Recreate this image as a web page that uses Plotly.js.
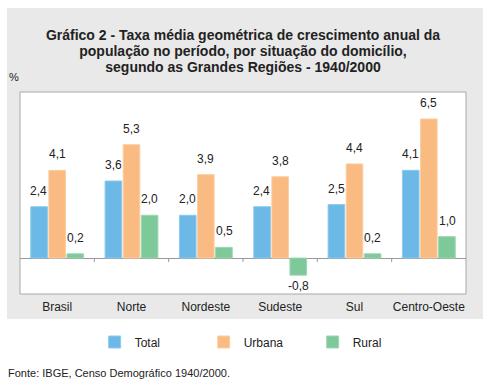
<!DOCTYPE html>
<html>
<head>
<meta charset="utf-8">
<script src="https://cdn.plot.ly/plotly-3.0.1.min.js"></script>
<style>
html,body{margin:0;padding:0;background:#fff;}
#chart{width:492px;height:385px;}
</style>
</head>
<body>
<div id="chart"></div>
<script>
const categories = ["Brasil", "Norte", "Nordeste", "Sudeste", "Sul", "Centro-Oeste"];
const seriesNames = ["Total", "Urbana", "Rural"];
const total = [2.4, 3.6, 2.0, 2.4, 2.5, 4.1];
const urbana = [4.1, 5.3, 3.9, 3.8, 4.4, 6.5];
const rural = [0.2, 2.0, 0.5, -0.8, 0.2, 1.0];
const seriesValues = [total, urbana, rural];
const titleLines = [
  "Gráfico 2 - Taxa média geométrica de crescimento anual da",
  "população no período, por situação do domicílio,",
  "segundo as Grandes Regiões - 1940/2000"
];
const colors = ["#6cb8e6", "#f9bb82", "#7dc99a"];
const lineColors = ["#8fcaee", "#fbcfa5", "#9dd7b3"];

const FONT = "Liberation Sans, Arial, sans-serif";

const traces = seriesValues.map((vals, k) => ({
  type: "bar",
  name: seriesNames[k],
  x: categories,
  y: vals,
  marker: {color: colors[k], line: {color: lineColors[k], width: 1}},
  hoverinfo: "x+y+name"
}));

const annotations = [];
seriesValues.forEach((vals, k) => {
  vals.forEach((v, i) => {
    annotations.push({
      x: categories[i], y: v, xref: "x", yref: "y",
      text: v.toFixed(1).replace(".", ","),
      showarrow: false,
      xshift: (k - 1) * 18.2,
      yshift: v >= 0 ? 16 : -11,
      font: {family: FONT, size: 12, color: "#222"}
    });
  });
});
annotations.push({
  xref: "paper", yref: "paper", x: -0.029, y: 1.074, xanchor: "left", yanchor: "middle",
  text: "%", showarrow: false, font: {family: FONT, size: 11, color: "#222"}
});
annotations.push({
  xref: "paper", yref: "paper", x: -0.031, y: -0.391, xanchor: "left", yanchor: "middle",
  text: "Fonte: IBGE, Censo Demográfico 1940/2000.", showarrow: false,
  font: {family: FONT, size: 11, color: "#222"}
});

const shapes = [
  {type: "rect", xref: "paper", yref: "paper", x0: -0.0291, x1: 1.0381, y0: -0.1238, y1: 1.4158,
   fillcolor: "#e9e9e9", line: {width: 0}, layer: "below"},
  {type: "rect", xref: "paper", yref: "paper", x0: 0, x1: 1, y0: 0, y1: 1,
   fillcolor: "#ffffff", line: {color: "#a8a8a8", width: 1}, layer: "below"}
];
for (let i = 0; i < categories.length - 1; i++) {
  shapes.push({type: "line", xref: "x", yref: "y", x0: i + 0.5, x1: i + 0.5,
    ysizemode: "pixel", yanchor: 0, y0: 0, y1: -4,
    line: {color: "#999", width: 1}});
}

const layout = {
  width: 492, height: 385,
  margin: {l: 20, r: 26, t: 92, b: 91},
  paper_bgcolor: "#ffffff",
  plot_bgcolor: "rgba(0,0,0,0)",
  separators: ",.",
  font: {family: FONT, color: "#222"},
  title: {
    text: titleLines.map(t => '<span style="font-size:14px">' + t + '</span>').join("<br>"),
    font: {family: FONT, size: 12, color: "#222", weight: "bold"},
    xref: "paper", x: 0.5, xanchor: "center",
    yref: "container", y: 0.895, yanchor: "top"
  },
  barmode: "group",
  bargap: 0.27,
  bargroupgap: 0.08,
  showlegend: true,
  legend: {
    orientation: "h", xref: "paper", x: 0.534, xanchor: "center",
    yref: "paper", y: -0.2376, yanchor: "middle",
    font: {family: FONT, size: 12, color: "#222"},
    bgcolor: "rgba(0,0,0,0)", entrywidth: 64, traceorder: "normal"
  },
  xaxis: {
    type: "category", showgrid: false, showline: false, ticks: "",
    tickfont: {family: FONT, size: 12, color: "#222"},
    ticklabelstandoff: 4, fixedrange: true
  },
  yaxis: {
    range: [-1.68, 7.76], showgrid: false, showticklabels: false, ticks: "",
    zeroline: true, zerolinecolor: "#999", zerolinewidth: 1, showline: false, fixedrange: true
  },
  shapes: shapes,
  annotations: annotations
};

Plotly.newPlot("chart", traces, layout, {displayModeBar: false, staticPlot: true});
</script>
</body>
</html>
